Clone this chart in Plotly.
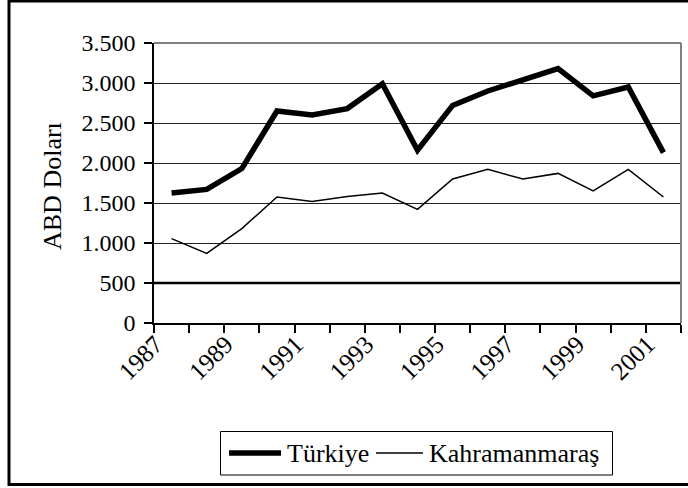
import plotly.graph_objects as go

years = ["1987", "1988", "1989", "1990", "1991", "1992", "1993", "1994",
         "1995", "1996", "1997", "1998", "1999", "2000", "2001"]
turkiye = [1625, 1670, 1930, 2650, 2600, 2680, 2990, 2160,
           2720, 2900, 3040, 3180, 2840, 2950, 2130]
kahramanmaras = [1055, 870, 1180, 1575, 1520, 1580, 1625, 1420,
                 1800, 1920, 1800, 1870, 1650, 1920, 1575]
y_ticks = [0, 500, 1000, 1500, 2000, 2500, 3000, 3500]
y_tick_labels = ["0", "500", "1.000", "1.500", "2.000", "2.500", "3.000", "3.500"]
ref_line = 500
series_names = ["Türkiye", "Kahramanmaraş"]
series_widths = [5.5, 1.5]

FONT = "Liberation Serif"
FS = 24
W, H = 688, 488
L, R, T, B = 154, 7, 43, 165
pw, ph = W - L - R, H - T - B

def px_x(p):
    return (p - L) / pw

def px_y(p):
    return (H - B - p) / ph

idx = list(range(len(years)))

fig = go.Figure()
for name, vals, w in zip(series_names, [turkiye, kahramanmaras], series_widths):
    fig.add_trace(go.Scatter(x=idx, y=vals, mode="lines", name=name,
                             showlegend=False,
                             line=dict(color="black", width=w)))

# manual legend (Excel style: long line samples inside a boxed frame)
leg_y = px_y(453)
legend_items = [(229, 281, 285), (376, 423, 427)]
shapes = [
    dict(type="line", xref="x", yref="y", x0=-0.5, x1=len(years) - 0.5,
         y0=ref_line, y1=ref_line, line=dict(color="black", width=2.5)),
    dict(type="line", xref="paper", yref="paper", x0=0, x1=1, y0=1, y1=1,
         line=dict(color="#808080", width=2)),
    dict(type="line", xref="paper", yref="paper", x0=1, x1=1, y0=0, y1=1,
         line=dict(color="#808080", width=2)),
    dict(type="rect", xref="paper", yref="paper",
         x0=px_x(9), x1=px_x(700), y0=px_y(484.5), y1=px_y(1),
         line=dict(color="black", width=3)),
    dict(type="rect", xref="paper", yref="paper",
         x0=px_x(220.5), x1=px_x(612.5), y0=px_y(475), y1=px_y(431.5),
         line=dict(color="black", width=1), fillcolor="white"),
]
annotations = [
    dict(text="ABD Doları", xref="paper", yref="paper",
         x=px_x(52), y=px_y(186), textangle=-90, showarrow=False,
         xanchor="center", yanchor="middle",
         font=dict(family=FONT, size=26)),
]
for (x0, x1, xt), name, w in zip(legend_items, series_names, series_widths):
    shapes.append(dict(type="line", xref="paper", yref="paper",
                       x0=px_x(x0), x1=px_x(x1), y0=leg_y, y1=leg_y,
                       line=dict(color="black", width=w)))
    annotations.append(dict(text=name, xref="paper", yref="paper",
                            x=px_x(xt), y=leg_y, xanchor="left", yanchor="middle",
                            showarrow=False, font=dict(family=FONT, size=26)))

fig.update_layout(
    width=W, height=H,
    margin=dict(l=L, r=R, t=T, b=B, pad=0),
    paper_bgcolor="white", plot_bgcolor="white",
    font=dict(family=FONT, size=FS, color="black"),
    showlegend=False,
    xaxis=dict(range=[-0.5, len(years) - 0.5], showgrid=False, zeroline=False,
               showline=True, linecolor="black", linewidth=1.5,
               tickmode="array", tickvals=idx[::2], ticktext=years[::2],
               ticks="", tickangle=-45, ticklabelshift=-16,
               ticklabelstandoff=-5,
               minor=dict(tickmode="array",
                          tickvals=[i - 0.5 for i in range(len(years) + 1)],
                          ticks="outside", ticklen=8, tickwidth=1.5,
                          tickcolor="black", showgrid=False),
               tickfont=dict(family=FONT, size=25)),
    yaxis=dict(range=[0, 3500], tickmode="array", tickvals=y_ticks,
               ticktext=y_tick_labels, showgrid=True, gridcolor="#222222",
               gridwidth=1, zeroline=False, showline=True, linecolor="black",
               linewidth=1.5, ticks="outside", ticklen=8, tickwidth=1.5,
               tickcolor="black", ticklabelstandoff=4,
               tickfont=dict(family=FONT, size=FS)),
    shapes=shapes,
    annotations=annotations,
)

fig.write_html("out.html", config={"displayModeBar": False},
               post_script="document.body.style.margin='0';document.body.style.overflow='hidden';")
